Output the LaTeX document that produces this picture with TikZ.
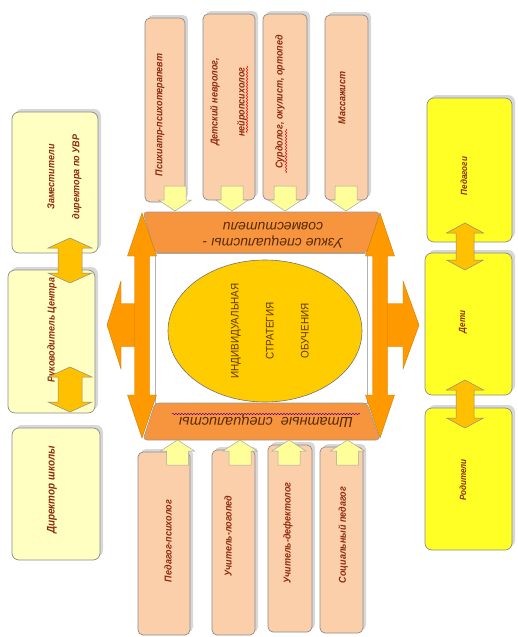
\documentclass[tikz,border=0pt]{standalone}
\usepackage{fontspec}
\setmainfont{Liberation Sans}
\newfontfamily\narrowfont[FakeStretch=0.9]{Liberation Sans}
\usetikzlibrary{shapes.geometric,shadows,decorations.pathmorphing}
\definecolor{lyel}{HTML}{FFFFC2}
\definecolor{ryel}{HTML}{FFFF26}
\definecolor{peach}{HTML}{FBCFAA}
\definecolor{gold}{HTML}{FFC000}
\definecolor{orng}{HTML}{FF9900}
\definecolor{trapc}{HTML}{F7953F}
\definecolor{ellc}{HTML}{FFCC00}
\definecolor{paley}{HTML}{FFFF99}
\definecolor{bline}{HTML}{8C8C8C}
\definecolor{btxt}{HTML}{8E2A0C}
\definecolor{ttxt}{HTML}{5A2A05}
\definecolor{etxt}{HTML}{5E3600}
% vertical double arrow: cx, ytop, ybot, shaft half, head half, head length, style
\newcommand\vdbl[7]{\draw[#7] (#1,#2) -- ({#1+(#5)},{#2+(#6)}) -- ({#1+(#4)},{#2+(#6)}) -- ({#1+(#4)},{#3-(#6)}) -- ({#1+(#5)},{#3-(#6)}) -- (#1,#3) -- ({#1-(#5)},{#3-(#6)}) -- ({#1-(#4)},{#3-(#6)}) -- ({#1-(#4)},{#2+(#6)}) -- ({#1-(#5)},{#2+(#6)}) -- cycle;}
% vertical single arrow: cx, ystart, ytip, shaft half, head half, signed head length, style
\newcommand\vsgl[7]{\draw[#7] ({#1-(#4)},#2) -- ({#1+(#4)},#2) -- ({#1+(#4)},{#3-(#6)}) -- ({#1+(#5)},{#3-(#6)}) -- (#1,#3) -- ({#1-(#5)},{#3-(#6)}) -- ({#1-(#4)},{#3-(#6)}) -- cycle;}
% horizontal single arrow: cy, xstart, xtip, shaft half, head half, signed head length, style
\newcommand\hsgl[7]{\draw[#7] (#2,{#1-(#4)}) -- ({#3-(#6)},{#1-(#4)}) -- ({#3-(#6)},{#1-(#5)}) -- (#3,#1) -- ({#3-(#6)},{#1+(#5)}) -- ({#3-(#6)},{#1+(#4)}) -- (#2,{#1+(#4)}) -- cycle;}
\begin{document}
\begin{tikzpicture}[x=1pt,y=-1pt,
  box/.style={draw=bline, line width=0.7pt, rounded corners=7pt, inner sep=0pt,
    drop shadow={shadow xshift=3pt, shadow yshift=3pt, fill=black!30, opacity=0.5}},
  lbox/.style={box, fill=lyel},
  rbox/.style={box, fill=ryel},
  pbox/.style={box, fill=peach, rounded corners=5pt},
  btext/.style={rotate=90, inner sep=0pt, align=center, text=btxt,
    font=\narrowfont\bfseries\itshape\fontsize{10}{25}\selectfont},
  goldarrow/.style={fill=gold, draw=black!45, line width=0.5pt},
  orarrow/.style={fill=orng, draw=orng!80!black, line width=0.4pt},
  smallarrow/.style={fill=paley, draw=black!35, line width=0.5pt},
  trapst/.style={fill=trapc, draw=black!40, line width=0.6pt, rounded corners=4pt},
  traptext/.style={rotate=180, inner sep=0pt, align=center, text=ttxt,
    font=\itshape\fontsize{14}{16}\selectfont},
  etext/.style={rotate=90, inner sep=0pt, align=center, text=etxt,
    font=\narrowfont\fontsize{11}{35}\selectfont},
  wavy/.style={decorate, decoration={snake, amplitude=0.7pt, segment length=3pt}, line width=0.5pt}
]
\useasboundingbox[fill=white] (0,0) rectangle (518,637);

% left column
\node[lbox, minimum width=86pt, minimum height=141pt] (l1) at (55,182.5) {};
\node[lbox, minimum width=87pt, minimum height=143pt] (l2) at (51.5,341.5) {};
\node[lbox, minimum width=88pt, minimum height=132pt] (l3) at (56,494) {};
\node[btext] (l1t) at (64.5,177) {Заместители\\директора по УВР};
\node[btext] (l2t) at (52,330) {Руководитель Центра};
\node[btext, font=\narrowfont\bfseries\itshape\fontsize{11}{25}\selectfont] (l3t) at (52,490) {Директор школы};

% right column
\node[rbox, minimum width=85pt, minimum height=144pt] (r1) at (469.5,170) {};
\node[rbox, minimum width=87pt, minimum height=142pt] (r2) at (468.5,324) {};
\node[rbox, minimum width=87pt, minimum height=142pt] (r3) at (468.5,479) {};
\node[btext, font=\narrowfont\bfseries\itshape\fontsize{9}{20}\selectfont] (r1t) at (464,176) {Педагоги};
\node[btext, font=\narrowfont\bfseries\itshape\fontsize{9}{20}\selectfont] (r2t) at (463,322) {Дети};
\node[btext, font=\narrowfont\bfseries\itshape\fontsize{9}{20}\selectfont] (r3t) at (463,480) {Родители};

% top column boxes
\node[pbox, minimum width=40pt, minimum height=184pt] (t1) at (165,110) {};
\node[pbox, minimum width=52pt, minimum height=186pt] (t2) at (229,107) {};
\node[pbox, minimum width=44pt, minimum height=186pt] (t3) at (285,107) {};
\node[pbox, minimum width=43pt, minimum height=185pt] (t4) at (346.5,107.5) {};
\node[btext] (t1t) at (160,115) {Психиатр-психотерапевт};
\node[btext, font=\narrowfont\bfseries\itshape\fontsize{10}{27}\selectfont] (t2t) at (228.5,102) {Детский невролог,\\нейропсихолог};
\node[btext] (t3t) at (280,102) {Сурдолог, окулист, ортопед};
\node[btext] (t4t) at (342,98) {Массажист};
\draw[wavy, red] (247,66) -- (247,133);
\draw[wavy, red] (286,129) -- (286,173);

% bottom boxes
\node[pbox, minimum width=52pt, minimum height=183pt] (b1) at (164,543.5) {};
\node[pbox, minimum width=43pt, minimum height=185pt] (b2) at (233.5,542.5) {};
\node[pbox, minimum width=44pt, minimum height=187pt] (b3) at (290,538.5) {};
\node[pbox, minimum width=43pt, minimum height=186pt] (b4) at (341.5,540) {};
\node[btext] (b1t) at (168,541) {Педагог-психолог};
\node[btext] (b2t) at (228,536) {Учитель-логопед};
\node[btext] (b3t) at (288,533) {Учитель-дефектолог};
\node[btext] (b4t) at (343,535) {Социальный педагог};

% gold double arrows
\vdbl{70}{238}{283}{12}{22}{10}{goldarrow}
\vdbl{70}{367}{412}{12}{22}{10}{goldarrow}
\vdbl{465}{223}{270}{9}{18.5}{10}{goldarrow}
\vdbl{465}{380}{428}{9}{18.5}{10}{goldarrow}

% centre
\node[draw=black!30, fill=white, line width=0.6pt, minimum width=212pt, minimum height=150pt, inner sep=0pt] (inner) at (261,328) {};
\node[ellipse, fill=ellc, draw=black!55, line width=0.6pt, minimum width=194pt, minimum height=142pt, inner sep=0pt] (ell) at (265,331) {};
\node[etext] (ellt) at (270,331) {ИНДИВИДУАЛЬНАЯ\\СТРАТЕГИЯ\\ОБУЧЕНИЯ};

% trapezoids
\draw[trapst] (143,212) -- (380,212) -- (367,253) -- (155,253) -- cycle;
\draw[trapst] (155,403) -- (367,403) -- (380,440) -- (143,440) -- cycle;
\node[traptext] (topt) at (273,235) {Узкие специалисты -\\совместители};
\node[traptext, font=\itshape\fontsize{14.5}{16}\selectfont] (bott) at (266,421) {Штатные\ \ специалисты};
\draw[wavy, violet!80!blue] (172,414) -- (360,414);

% orange arrows
\hsgl{325}{142}{107}{21.5}{44}{-14}{orarrow}
\hsgl{325}{380}{419}{21.5}{44}{16}{orarrow}
\vdbl{142}{213}{438}{7.5}{14.5}{43}{orarrow}
\vdbl{380}{213}{438}{7.5}{14.5}{43}{orarrow}

% small arrows top (down) and bottom (up)
\vsgl{175}{186}{211}{11}{16.5}{11}{smallarrow}
\vsgl{232}{186}{211}{11}{16.5}{11}{smallarrow}
\vsgl{285}{186}{211}{11}{16.5}{11}{smallarrow}
\vsgl{346}{186}{211}{11}{16.5}{11}{smallarrow}
\vsgl{177.5}{465}{440}{11}{17}{-11}{smallarrow}
\vsgl{240}{465}{440}{11}{17}{-11}{smallarrow}
\vsgl{289}{465}{440}{11}{17}{-11}{smallarrow}
\vsgl{347.5}{465}{440}{11}{17}{-11}{smallarrow}
\end{tikzpicture}
\end{document}
